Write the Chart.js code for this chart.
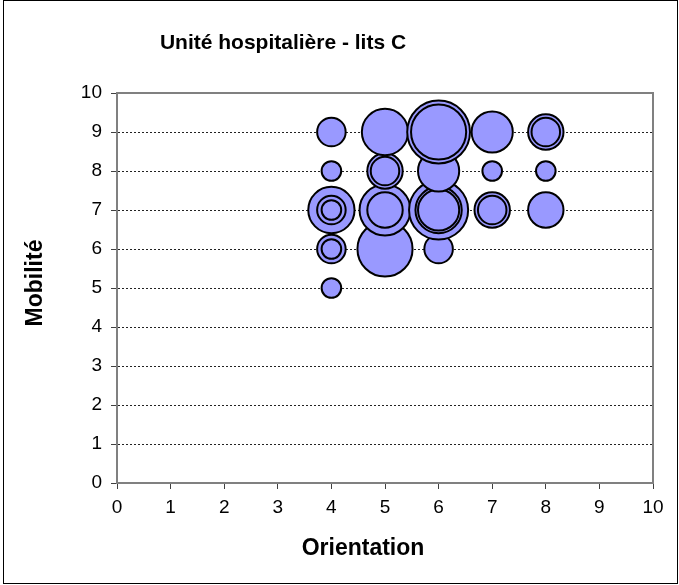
<!DOCTYPE html>
<html>
<head>
<meta charset="utf-8">
<script src="https://cdn.jsdelivr.net/npm/chart.js@4/dist/chart.umd.min.js"></script>
<style>
  html, body { margin: 0; padding: 0; background: #fff; }
  #wrap { width: 679px; height: 585px; }
</style>
</head>
<body>
<div id="wrap"><canvas id="bubbleChart" width="679" height="585"></canvas></div>
<script>
// Points sorted by Mobilité ascending, then Orientation, biggest bubble first
const orientation = [4, 4, 4, 5, 6, 4, 4, 4, 5, 5, 6, 6, 6, 7, 7, 8, 4, 5, 5, 6, 7, 8, 4, 5, 6, 6, 7, 8, 8];
const mobilite    = [5, 6, 6, 6, 6, 7, 7, 7, 7, 7, 7, 7, 7, 7, 7, 7, 8, 8, 8, 8, 8, 8, 9, 9, 9, 9, 9, 9, 9];
const effectif    = [1, 2, 1, 7, 2, 5, 2, 1, 6, 3, 8, 5, 4, 3, 2, 3, 1, 3, 2, 4, 1, 1, 2, 5, 9, 7, 4, 3, 2];
const tickValues  = [0, 1, 2, 3, 4, 5, 6, 7, 8, 9, 10];

const chartTitle = 'Unité hospitalière - lits C';
const xTitle = 'Orientation';
const yTitle = 'Mobilité';

const FONT = "'Liberation Sans', Arial, sans-serif";
const RADIUS_UNIT = 10.8; // outer radius of a bubble of size 1

const points = orientation.map((x, i) => ({ x: x, y: mobilite[i], v: effectif[i] }));

// titles, outer frame, top/right plot border
const decorations = {
    id: 'decorations',
    beforeDatasetsDraw(chart) {
        const { ctx, chartArea: a } = chart;
        ctx.save();
        ctx.strokeStyle = '#808080';
        ctx.lineWidth = 2;
        ctx.beginPath();
        ctx.moveTo(a.left, a.top);
        ctx.lineTo(a.right, a.top);
        ctx.lineTo(a.right, a.bottom);
        ctx.stroke();
        ctx.restore();
    },
    afterDraw(chart) {
        const { ctx } = chart;
        ctx.save();
        ctx.strokeStyle = '#000';
        ctx.lineWidth = 1;
        ctx.strokeRect(3.5, 0.5, 674, 583);

        ctx.fillStyle = '#000';
        ctx.textAlign = 'center';
        ctx.textBaseline = 'middle';
        ctx.font = 'bold 21px ' + FONT;
        ctx.fillText(chartTitle, 283, 43);

        ctx.font = 'bold 23px ' + FONT;
        ctx.fillText(xTitle, 363, 549);

        ctx.translate(36, 283);
        ctx.rotate(-Math.PI / 2);
        ctx.fillText(yTitle, 0, 0);
        ctx.restore();
    }
};

new Chart(document.getElementById('bubbleChart'), {
    type: 'bubble',
    data: {
        datasets: [{
            label: 'lits C',
            data: points,
            backgroundColor: '#9999FF',
            borderColor: '#000',
            borderWidth: 2,
            hoverBorderWidth: 2,
            radius: ctx => RADIUS_UNIT * Math.sqrt(ctx.raw.v) - 1
        }]
    },
    options: {
        responsive: false,
        animation: false,
        events: [],
        layout: {
            autoPadding: false,
            padding: { top: 93, right: 26, left: 0, bottom: 0 }
        },
        plugins: {
            legend: { display: false },
            title: { display: false },
            tooltip: { enabled: false }
        },
        scales: {
            x: {
                type: 'linear',
                min: 0,
                max: 10,
                afterFit: scale => { scale.height = 102; },
                afterBuildTicks: scale => { scale.ticks = tickValues.map(v => ({ value: v })); },
                ticks: {
                    color: '#000',
                    font: { family: FONT, size: 19 },
                    padding: 7,
                    maxRotation: 0
                },
                grid: {
                    drawOnChartArea: false,
                    drawTicks: true,
                    tickLength: 6,
                    tickColor: '#404040'
                },
                border: { color: '#808080', width: 2 }
            },
            y: {
                type: 'linear',
                min: 0,
                max: 10,
                afterFit: scale => { scale.width = 117; },
                afterBuildTicks: scale => { scale.ticks = tickValues.map(v => ({ value: v })); },
                ticks: {
                    color: '#000',
                    font: { family: FONT, size: 19 },
                    padding: 9
                },
                grid: {
                    color: ctx => (ctx.tick && (ctx.tick.value === 0 || ctx.tick.value === 10)) ? 'rgba(0,0,0,0)' : '#222',
                    lineWidth: 1,
                    drawTicks: true,
                    tickLength: 6,
                    tickColor: '#404040'
                },
                border: { color: '#808080', width: 2, dash: [2, 2] }
            }
        }
    },
    plugins: [decorations]
});
</script>
</body>
</html>
